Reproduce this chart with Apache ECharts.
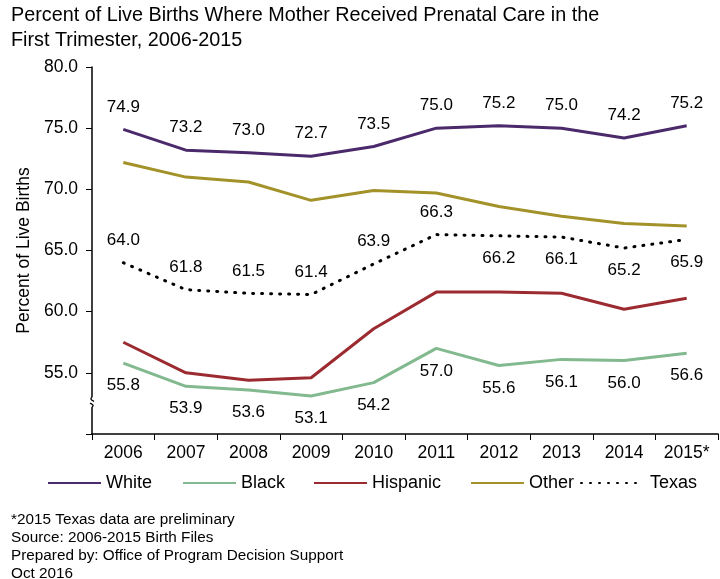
<!DOCTYPE html>
<html>
<head>
<meta charset="utf-8">
<script src="https://cdn.jsdelivr.net/npm/echarts@6/dist/echarts.min.js"></script>
<style>
  html, body { margin: 0; padding: 0; background: #fff; }
  #chart { width: 720px; height: 579px; }
</style>
</head>
<body>
<div id="chart"></div>
<script>
const years = ['2006', '2007', '2008', '2009', '2010', '2011', '2012', '2013', '2014', '2015*']
const white = [74.9, 73.2, 73.0, 72.7, 73.5, 75.0, 75.2, 75.0, 74.2, 75.2]
const black = [55.8, 53.9, 53.6, 53.1, 54.2, 57.0, 55.6, 56.1, 56.0, 56.6]
const hispanic = [57.5, 55.0, 54.4, 54.6, 58.6, 61.6, 61.6, 61.5, 60.2, 61.1]
const other = [72.2, 71.0, 70.6, 69.1, 69.9, 69.7, 68.6, 67.8, 67.2, 67.0]
const texas = [64.0, 61.8, 61.5, 61.4, 63.9, 66.3, 66.2, 66.1, 65.2, 65.9]
// which texas labels go above the line
const texasAbove = [true, true, true, true, true, true, false, false, false, false]
const yTicks = [50, 55, 60, 65, 70, 75, 80]
const seriesNames = ['White', 'Black', 'Hispanic', 'Other', 'Texas']

const FONT = '"Liberation Sans", Arial, sans-serif'
const footnote = '*2015 Texas data are preliminary\nSource: 2006-2015 Birth Files\nPrepared by: Office of Program Decision Support\nOct 2016'

const chart = echarts.init(document.getElementById('chart'))

const labelStyle = {
  show: true,
  color: '#000',
  fontFamily: FONT,
  fontSize: 17,
  distance: 14,
  formatter: p => p.value.toFixed(1)
}

// one legend per entry so each can sit where the original puts it
const legendLeft = [42, 177, 308, 465, 575]
const legends = seriesNames.map((name, i) => ({
  data: [name],
  left: legendLeft[i],
  top: 469,
  itemWidth: name === 'Texas' ? 60 : 53,
  itemHeight: 10,
  itemGap: 0,
  itemStyle: { opacity: 0 },
  textStyle: {
    fontSize: 18, color: '#000', fontFamily: FONT,
    padding: name === 'Texas' ? [0, 0, 0, 4] : [0, 0, 0, 0]
  }
}))

const option = {
  animation: false,
  textStyle: { fontFamily: FONT },
  title: {
    text: 'Percent of Live Births Where Mother Received Prenatal Care in the\nFirst Trimester, 2006-2015',
    left: 11,
    top: 3,
    padding: 0,
    textStyle: { fontSize: 19.8, fontWeight: 'normal', color: '#000', lineHeight: 25, fontFamily: FONT }
  },
  grid: { left: 92, right: 2, top: 67, bottom: 145 },
  legend: legends,
  xAxis: {
    type: 'category',
    data: years,
    boundaryGap: true,
    axisLine: { lineStyle: { color: '#000', width: 1.5 } },
    axisTick: { show: true, length: 6, lineStyle: { color: '#000' } },
    axisLabel: { color: '#000', fontSize: 17.5, margin: 10, fontFamily: FONT }
  },
  yAxis: {
    type: 'value',
    min: yTicks[0],
    max: yTicks[yTicks.length - 1],
    interval: 5,
    name: 'Percent of Live Births',
    nameLocation: 'middle',
    nameGap: 52,
    nameTextStyle: { color: '#000', fontSize: 17.5, fontFamily: FONT },
    axisLine: { show: true, lineStyle: { color: '#000', width: 1.5 } },
    axisTick: { show: true, length: 6, lineStyle: { color: '#000' } },
    splitLine: { show: false },
    axisLabel: {
      color: '#000',
      fontSize: 17.5,
      margin: 14,
      fontFamily: FONT,
      formatter: v => (v === yTicks[0] ? '' : v.toFixed(1))
    }
  },
  series: [
    {
      name: 'White', type: 'line', data: white, symbol: 'circle', symbolSize: 0,
      lineStyle: { color: '#4b2a6b', width: 3 }, itemStyle: { color: '#4b2a6b' },
      label: Object.assign({}, labelStyle, { position: 'top' })
    },
    {
      name: 'Black', type: 'line', data: black, symbol: 'circle', symbolSize: 0,
      lineStyle: { color: '#82b98f', width: 3 }, itemStyle: { color: '#82b98f' },
      label: Object.assign({}, labelStyle, { position: 'bottom' })
    },
    {
      name: 'Hispanic', type: 'line', data: hispanic, symbol: 'none',
      lineStyle: { color: '#9b2b30', width: 3 }, itemStyle: { color: '#9b2b30' }
    },
    {
      name: 'Other', type: 'line', data: other, symbol: 'none',
      lineStyle: { color: '#a3922a', width: 3 }, itemStyle: { color: '#a3922a' }
    },
    {
      name: 'Texas', type: 'line', symbol: 'circle', symbolSize: 0,
      data: texas.map((v, i) => ({
        value: v,
        label: Object.assign({}, labelStyle, { position: texasAbove[i] ? 'top' : 'bottom' })
      })),
      lineStyle: { color: '#000', width: 3, type: [1, 8], cap: 'round' },
      itemStyle: { color: '#000' }
    }
  ]
}

chart.setOption(option)

// axis break marks on the y axis
const step = chart.convertToPixel({ xAxisIndex: 0 }, 1) - chart.convertToPixel({ xAxisIndex: 0 }, 0)
const x0 = chart.convertToPixel({ xAxisIndex: 0 }, 0) - step / 2
const yTop = chart.convertToPixel({ yAxisIndex: 0 }, 53.0)
const yBot = chart.convertToPixel({ yAxisIndex: 0 }, 52.2)
chart.setOption({
  graphic: [
    {
      type: 'text', left: 11, top: 511,
      style: { text: footnote, fontSize: 15.3, lineHeight: 18, fill: '#000', fontFamily: FONT }
    },
    { type: 'rect', shape: { x: x0 - 4, y: yTop, width: 8, height: yBot - yTop }, style: { fill: '#fff' }, z: 100 },
    { type: 'bezierCurve', shape: { x1: x0, y1: yTop, cpx1: x0 - 3, cpy1: yTop + 2, x2: x0 + 2, y2: yTop + 4 }, style: { stroke: '#000', lineWidth: 1.3, fill: null }, z: 101 },
    { type: 'bezierCurve', shape: { x1: x0 - 2, y1: yBot - 4, cpx1: x0 + 3, cpy1: yBot - 2, x2: x0, y2: yBot }, style: { stroke: '#000', lineWidth: 1.3, fill: null }, z: 101 }
  ]
})
</script>
</body>
</html>
